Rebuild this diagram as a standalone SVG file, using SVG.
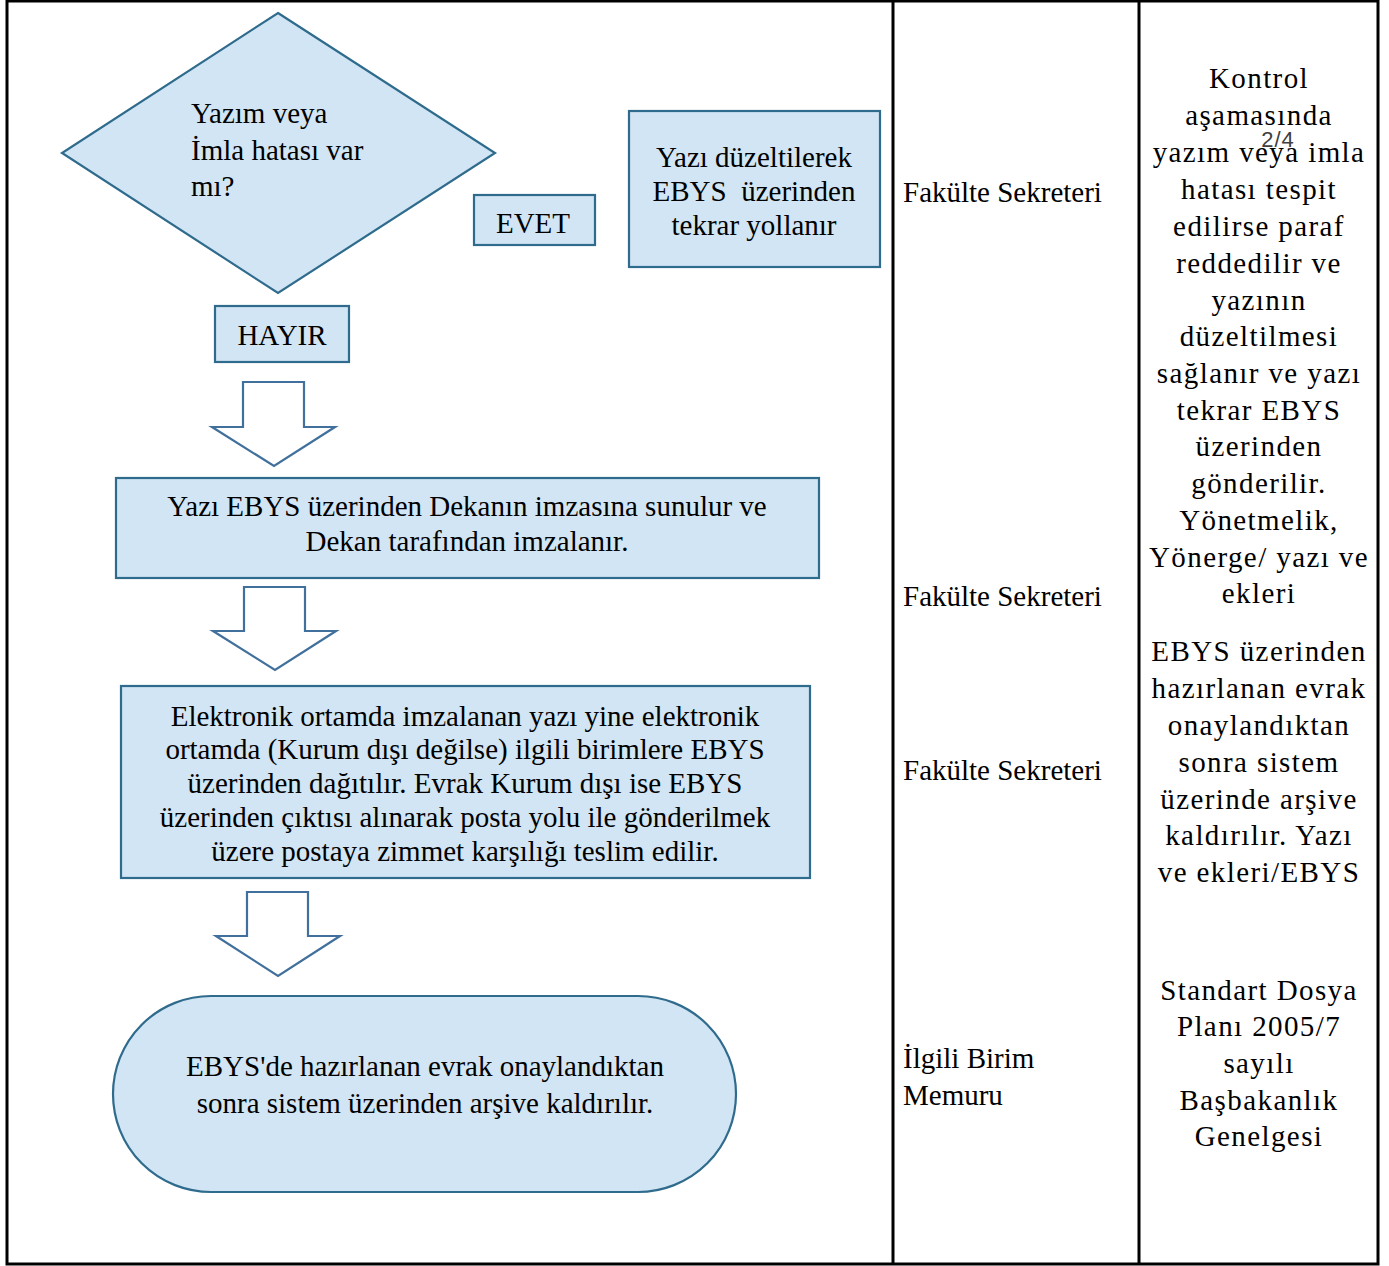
<svg xmlns="http://www.w3.org/2000/svg" width="1389" height="1266" viewBox="0 0 1389 1266">
<style>
  text { font-family: "Liberation Serif", "Times New Roman", serif; font-size: 29px; fill: #000; }
  .c { text-anchor: middle; }
  .r { letter-spacing: 1.4px; }
  .shape { fill: #d2e5f4; stroke: #2f6b8c; stroke-width: 2.2; }
  .arrow { fill: #fff; stroke: #41709c; stroke-width: 2.2; stroke-linejoin: miter; }
  .grid { stroke: #000; stroke-width: 3; fill: none; }
  .pg { font-family: "Liberation Sans", Arial, sans-serif; font-size: 22px; fill: #404040; letter-spacing: 1px; }
</style>
<rect width="1389" height="1266" fill="#fff"/>
<g id="table">
  <rect class="grid" x="7" y="1" width="1371" height="1263"/>
  <line class="grid" x1="893" y1="1" x2="893" y2="1264"/>
  <line class="grid" x1="1139" y1="1" x2="1139" y2="1264"/>
</g>
<g id="connectors">
  <polygon class="arrow" points="243,382 304,382 304,427 335,427 274,466 212,427 243,427"/>
  <polygon class="arrow" points="244,587 305,587 305,631 336,631 275,670 213,631 244,631"/>
  <polygon class="arrow" points="247,892 308,892 308,936 340,936 278,976 216,936 247,936"/>
</g>
<g id="decision">
  <polygon class="shape" points="278,13 495,153 278,293 62,153"/>
  <text x="191" y="123">Yazım veya</text>
  <text x="191" y="160">İmla hatası var</text>
  <text x="191" y="196">mı?</text>
</g>
<g id="evet">
  <rect class="shape" x="474" y="195" width="121" height="50"/>
  <text class="c" x="533" y="233">EVET</text>
</g>
<g id="duzelt">
  <rect class="shape" x="629" y="111" width="251" height="156"/>
  <text class="c" x="754" y="167">Yazı düzeltilerek</text>
  <text class="c" x="754" y="201">EBYS&#160; üzerinden</text>
  <text class="c" x="754" y="235">tekrar yollanır</text>
</g>
<g id="hayir">
  <rect class="shape" x="215" y="306" width="134" height="56"/>
  <text class="c" x="282" y="345">HAYIR</text>
</g>
<g id="imza">
  <rect class="shape" x="116" y="478" width="703" height="100"/>
  <text class="c" x="467" y="516">Yazı EBYS üzerinden Dekanın imzasına sunulur ve</text>
  <text class="c" x="467" y="551">Dekan tarafından imzalanır.</text>
</g>
<g id="dagit">
  <rect class="shape" x="121" y="686" width="689" height="192"/>
  <text class="c" x="465" y="726">Elektronik ortamda imzalanan yazı yine elektronik</text>
  <text class="c" x="465" y="759">ortamda (Kurum dışı değilse) ilgili birimlere EBYS</text>
  <text class="c" x="465" y="793">üzerinden dağıtılır. Evrak Kurum dışı ise EBYS</text>
  <text class="c" x="465" y="827">üzerinden çıktısı alınarak posta yolu ile gönderilmek</text>
  <text class="c" x="465" y="861">üzere postaya zimmet karşılığı teslim edilir.</text>
</g>
<g id="arsiv">
  <rect class="shape" x="113" y="996" width="623" height="196" rx="98" ry="98"/>
  <text class="c" x="425" y="1076">EBYS'de hazırlanan evrak onaylandıktan</text>
  <text class="c" x="425" y="1113">sonra sistem üzerinden arşive kaldırılır.</text>
</g>
<g id="sorumlu">
  <text x="903" y="202">Fakülte Sekreteri</text>
  <text x="903" y="606">Fakülte Sekreteri</text>
  <text x="903" y="780">Fakülte Sekreteri</text>
  <text x="903" y="1068">İlgili Birim</text>
  <text x="903" y="1105">Memuru</text>
</g>
<g id="dokuman">
  <text class="c r" x="1259" y="88">Kontrol</text>
  <text class="c r" x="1259" y="125">aşamasında</text>
  <text class="c r" x="1259" y="162">yazım veya imla</text>
  <text class="c r" x="1259" y="199">hatası tespit</text>
  <text class="c r" x="1259" y="236">edilirse paraf</text>
  <text class="c r" x="1259" y="273">reddedilir ve</text>
  <text class="c r" x="1259" y="310">yazının</text>
  <text class="c r" x="1259" y="346">düzeltilmesi</text>
  <text class="c r" x="1259" y="383">sağlanır ve yazı</text>
  <text class="c r" x="1259" y="420">tekrar EBYS</text>
  <text class="c r" x="1259" y="456">üzerinden</text>
  <text class="c r" x="1259" y="493">gönderilir.</text>
  <text class="c r" x="1259" y="530">Yönetmelik,</text>
  <text class="c r" x="1259" y="567">Yönerge/ yazı ve</text>
  <text class="c r" x="1259" y="603">ekleri</text>
  <text class="c r" x="1259" y="661">EBYS üzerinden</text>
  <text class="c r" x="1259" y="698">hazırlanan evrak</text>
  <text class="c r" x="1259" y="735">onaylandıktan</text>
  <text class="c r" x="1259" y="772">sonra sistem</text>
  <text class="c r" x="1259" y="809">üzerinde arşive</text>
  <text class="c r" x="1259" y="845">kaldırılır. Yazı</text>
  <text class="c r" x="1259" y="882">ve ekleri/EBYS</text>
  <text class="c r" x="1259" y="1000">Standart Dosya</text>
  <text class="c r" x="1259" y="1036">Planı 2005/7</text>
  <text class="c r" x="1259" y="1073">sayılı</text>
  <text class="c r" x="1259" y="1110">Başbakanlık</text>
  <text class="c r" x="1259" y="1146">Genelgesi</text>
  <text class="pg c" x="1278" y="147">2/4</text>
</g>
</svg>
